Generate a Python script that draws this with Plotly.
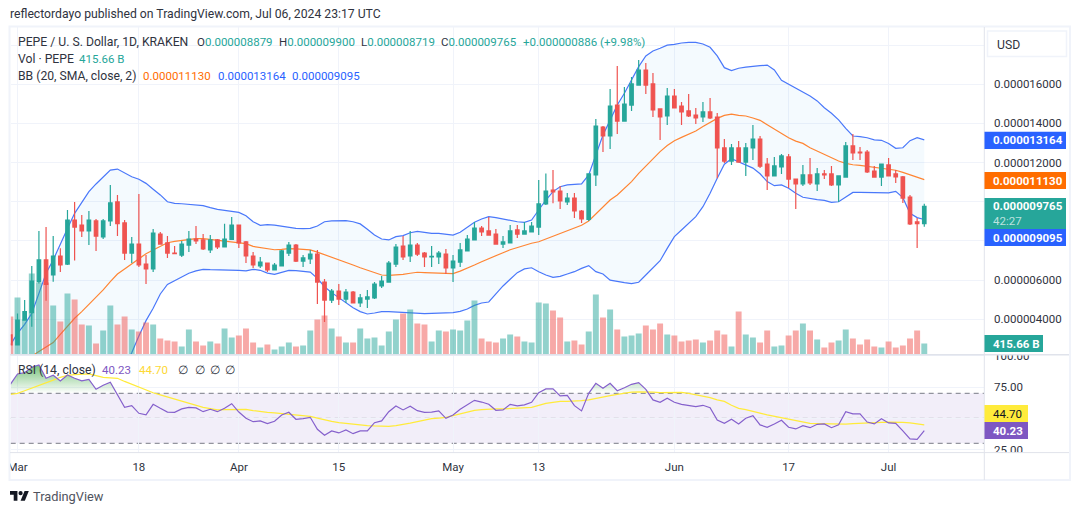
import pandas as pd
import plotly.graph_objects as go

# Daily PEPE/USD session data, Feb 29 to Jul 6 2024. Prices in millionths of a dollar.
DATES = pd.date_range("2024-02-29", "2024-07-06", freq="D")
PRICE_UNIT = 1e-6

OPEN = [3.20,
 2.69,3.96,4.34,5.92,7.03,6.26,7.23,6.82,9.07,8.81,8.51,9.02,8.2,9.02,9.99,8.92,7.38,7.84,6.82,6.57,
 8.35,7.9,7.38,7.28,7.79,8.1,8.05,7.54,8.05,7.69,8.08,8.81,7.95,7.23,6.72,6.87,6.52,6.72,7.38,7.79,
 6.97,7.08,7.33,5.9,4.98,5.44,5.03,5.39,4.83,5.03,5.09,5.7,5.9,6.82,7.74,7.23,7.79,7.38,7.18,7.18,
 7.33,6.62,6.92,7.49,8.05,8.66,8.51,8.35,7.84,7.9,8.56,8.35,8.46,8.71,9.89,10.6,10.55,9.99,10.19,9.53,
 9.1,11.37,13.82,13.36,14.94,14.12,14.94,15.96,16.73,16.02,14.74,14.38,15.4,14.89,14.64,14.43,14.33,14.59,14.33,12.75,
 12.08,12.75,12.03,12.75,13.2,11.93,11.32,11.78,12.29,11.16,10.91,11.37,10.91,11.42,11.42,10.86,11.26,12.85,12.54,12.54,
 11.57,11.26,11.88,11.42,11.27,10.24,8.97,8.879]
HIGH = [3.20,
 4.30,4.98,6.72,8.51,8.71,8.25,7.62,9.58,9.99,9.32,9.53,9.12,9.12,10.86,10.35,9.07,8.2,10.4,7.28,8.61,
 8.46,8.25,7.74,8.0,8.51,8.76,8.35,8.3,8.1,8.88,9.22,8.81,8.0,7.43,7.18,6.87,6.87,7.54,7.95,7.84,
 7.28,7.54,7.54,6.06,5.55,5.8,5.55,5.44,5.29,5.5,5.9,6.21,6.97,7.84,8.25,8.51,7.9,7.43,7.74,7.49,
 7.59,7.28,7.9,8.3,8.97,8.76,9.22,8.61,8.25,8.81,8.81,8.97,8.97,11.11,11.45,11.62,10.8,10.45,10.45,9.58,
 11.44,14.23,13.87,15.76,16.93,15.86,16.37,17.24,17.09,16.58,14.74,15.81,15.76,15.1,15.5,14.79,15.1,15.3,14.53,13.2,
 12.95,13.1,13.0,13.92,13.36,12.24,12.29,12.44,12.44,11.16,11.88,12.24,11.73,11.62,11.83,11.32,13.05,13.46,12.8,12.64,
 11.83,11.93,12.24,11.62,11.32,10.35,9.17,9.90]
LOW = [2.69,
 2.69,3.96,3.62,5.83,4.95,5.92,6.41,6.77,7.0,8.2,7.79,7.49,8.1,8.76,8.25,7.03,6.87,6.67,5.8,6.41,
 7.84,7.13,7.33,7.18,7.43,7.84,7.54,7.38,7.59,7.69,8.05,7.64,6.87,6.62,6.62,6.41,6.52,6.72,7.23,6.92,
 6.67,6.82,4.78,3.86,4.83,4.73,4.83,4.83,4.63,4.57,5.03,5.6,5.9,6.67,7.03,6.92,7.23,6.67,6.67,6.82,
 6.31,5.9,6.67,7.49,8.05,8.25,8.3,7.84,7.64,7.9,8.15,8.35,8.46,8.3,9.84,9.92,9.63,9.84,9.17,8.92,
 9.02,10.8,12.54,12.7,13.46,14.12,14.64,15.96,15.5,14.33,13.15,13.92,14.79,13.92,14.33,13.97,14.07,14.23,11.2,11.98,
 11.88,12.03,11.32,12.13,11.72,10.6,11.32,11.42,10.7,9.63,10.81,10.86,10.55,11.16,10.81,9.99,11.26,12.13,12.13,11.47,
 11.26,10.81,11.32,10.96,9.94,8.81,7.64,8.719]
CLOSE = [2.69,
 3.96,4.39,5.95,7.03,5.78,7.23,6.77,9.07,8.71,8.51,9.07,8.25,9.02,9.94,8.88,7.38,7.84,6.77,6.57,8.4,
 7.84,7.38,7.35,7.84,8.1,8.0,7.59,8.05,7.69,8.1,8.81,7.9,7.23,6.77,6.92,6.52,6.77,7.49,7.79,6.97,
 7.13,7.33,5.9,4.98,5.44,5.03,5.39,4.83,5.09,5.14,5.8,5.95,6.87,7.69,7.18,7.79,7.33,7.18,7.21,7.38,
 6.62,6.97,7.54,8.1,8.66,8.46,8.3,7.84,7.95,8.51,8.35,8.51,8.76,9.89,10.55,10.5,10.04,10.19,9.53,9.12,
 11.42,13.87,13.36,14.89,14.12,14.99,16.02,16.73,15.96,14.69,14.33,15.4,14.79,14.59,14.38,14.28,14.59,14.28,12.75,12.08,
 12.75,12.03,12.75,13.2,11.82,11.32,11.83,12.34,11.16,10.91,11.37,10.96,11.42,11.37,10.86,11.32,12.85,12.49,12.49,11.52,
 11.26,11.93,11.32,11.27,10.19,8.87,8.879,9.765]

# Volume in billions of PEPE
VOLUME = [1436,
 2155,1323,3062,2722,2722,1852,1247,2306,2079,1134,1096,416,907,1852,1134,1436,945,869,1210,1134,
 605,529,491,302,945,491,340,491,416,983,643,718,983,454,265,378,189,302,454,302,
 340,907,1323,1474,983,680,454,454,983,605,643,340,869,1323,1550,1701,1172,1134,491,907,
 869,945,907,1285,2041,605,491,454,605,756,680,491,454,1966,1928,1663,1399,491,529,378,
 869,2268,1399,1701,945,680,718,794,1096,945,1172,756,718,491,529,567,454,529,907,756,
 302,1625,756,643,454,907,302,340,718,907,1172,907,567,265,454,529,945,605,378,567,
 302,265,491,265,340,605,907,415.66]

# Bollinger Bands (20, SMA, close, 2); early values sit below the visible price range
BB_UPPER = [2.69,
 3.28,3.74,4.3,5.32,6.35,7.03,7.88,8.64,9.41,10.0,10.52,10.91,11.28,11.62,11.67,11.49,11.28,11.15,10.94,10.64,
 10.35,10.0,9.92,9.9,9.87,9.84,9.8,9.7,9.61,9.56,9.51,9.46,9.29,8.98,8.8,8.83,8.81,8.76,8.7,8.64,
 8.63,8.64,8.76,8.98,9.02,9.04,9.04,8.98,8.87,8.6,8.3,8.1,8.05,8.22,8.27,8.42,8.49,8.44,8.39,8.39,
 8.35,8.3,8.44,8.68,8.95,9.12,9.24,9.19,9.12,9.04,8.98,8.95,9.07,9.58,10.09,10.52,10.77,10.86,10.87,10.91,
 11.37,12.42,13.41,14.17,14.94,15.54,16.22,16.9,17.45,17.7,17.84,18.0,18.04,18.11,18.14,18.14,18.06,17.89,17.45,16.85,
 16.7,16.82,16.88,16.9,16.95,16.98,16.73,16.2,16.0,15.8,15.6,15.4,15.15,14.8,14.52,14.18,13.75,13.36,13.33,13.27,
 13.16,13.14,12.98,12.73,12.76,13.12,13.27,13.164]
BB_MIDDLE = [0.9,
 1.2,1.6,2.12,2.35,2.57,2.81,3.23,3.66,4.05,4.39,4.76,5.12,5.5,5.92,6.31,6.57,6.82,7.11,7.35,7.54,
 7.74,7.91,7.98,8.03,8.08,8.12,8.12,8.08,8.03,8.0,7.96,7.93,7.86,7.72,7.66,7.61,7.55,7.57,7.61,7.59,
 7.55,7.54,7.43,7.3,7.18,7.06,6.91,6.77,6.63,6.5,6.38,6.26,6.24,6.26,6.29,6.35,6.4,6.38,6.36,6.35,
 6.33,6.33,6.46,6.6,6.77,6.94,7.08,7.23,7.4,7.55,7.67,7.78,7.88,7.96,8.1,8.25,8.39,8.56,8.7,8.8,
 9.02,9.38,9.75,10.09,10.35,10.69,11.03,11.45,11.82,12.17,12.56,12.87,13.12,13.29,13.46,13.61,13.84,14.04,14.26,14.41,
 14.48,14.41,14.38,14.28,14.16,13.93,13.7,13.5,13.27,13.1,12.98,12.76,12.59,12.42,12.24,12.08,11.96,11.89,11.86,11.81,
 11.76,11.73,11.67,11.61,11.5,11.37,11.25,11.13]
BB_LOWER = [-0.9,
 -0.9,-0.5,-0.1,-0.6,-1.2,-1.4,-1.4,-1.3,-1.3,-1.2,-1.0,-0.7,-0.3,0.2,0.9,1.58,2.29,3.15,3.93,4.56,
 5.29,5.78,5.97,6.14,6.35,6.47,6.55,6.53,6.53,6.52,6.52,6.5,6.47,6.55,6.5,6.36,6.29,6.4,6.5,6.48,
 6.45,6.41,6.09,5.66,5.36,5.1,4.85,4.59,4.39,4.27,4.32,4.39,4.39,4.37,4.35,4.3,4.29,4.29,4.3,4.32,
 4.32,4.34,4.4,4.52,4.71,4.83,4.88,5.31,5.7,6.04,6.38,6.57,6.63,6.43,6.26,6.14,6.19,6.31,6.43,6.6,
 6.74,6.43,6.31,6.0,5.92,5.87,5.82,5.89,6.26,6.63,6.99,7.62,8.22,8.56,8.9,9.24,9.75,10.43,11.2,11.92,
 12.2,12.05,11.9,11.72,11.43,11.03,10.82,10.86,10.69,10.43,10.23,10.16,10.11,10.07,9.97,10.0,10.26,10.48,10.48,10.47,
 10.45,10.43,10.45,10.53,10.21,9.41,9.19,9.095]

RSI = [77.2,
 85.5,86.5,90.8,92.7,82,84.4,79.9,84.7,82,80,81.2,73.2,76.4,78.8,68.7,58.8,60.1,54,52.7,61.2,
 58,55,54.8,57.5,58.8,58.3,55.3,57.2,55.3,58,61.7,55,50,47.3,47.9,45.7,47.6,52.7,54.8,49.2,
 49.7,50.8,41.2,36.4,39.9,38.3,40.7,37.7,39.9,39.9,46.5,47.9,55.3,59.9,56.7,59.6,56.1,54.8,55,55.9,
 50,52.7,57.2,60.7,64.4,63,61.2,56.4,56.7,61.2,59.9,60.7,62.8,70.5,73.5,73.5,67.9,68.4,60.1,55.9,
 70,78,74,78,72.1,74.5,77.2,78.5,73.2,64.7,62.8,66,62.8,61.2,60.1,59.3,60.4,58.5,48.7,46,
 49.2,45.5,50,52.1,44.7,42.8,45.5,48.4,42.8,41.5,44.1,42.5,45.2,45.5,42.5,44.9,55.3,53.5,53.5,47,
 45.5,49.7,46.3,46,39.9,33.5,33.2,40.23]
RSI_MA = [69.2,
 70,72,74,76,78,80.5,82.8,84.4,85,85.5,85.5,84.2,82.8,82.4,82,79.5,77.2,74.6,72.1,70.4,
 68.7,67,65.5,63.7,62,60.4,58.8,57.7,56.7,57,57.2,57.2,57.2,56.2,55.3,54.8,54.3,53.7,53.2,52.6,
 52.1,51.6,50.2,48.7,47.6,46.5,45.9,45.2,44.4,44.2,43.9,43.7,43.6,44.2,44.9,46.1,47.3,48.5,49.7,50.2,
 50.8,52.1,53.5,55,56.4,57,57.5,57.5,57.5,57.7,58,58.4,58.8,60.4,62,62.8,63.6,63.6,63.6,64.1,
 64.7,66,67.3,68.2,69.2,70.1,71,71.2,71.3,70.9,70.5,70.4,70.3,70.8,69.9,68.9,67.7,66.5,64.7,63.5,
 60.5,58,57,55.9,54.2,52.7,51.6,50.5,49.3,48.1,47,45.9,45.7,45.5,45.3,45.2,45.4,45.7,46.1,46.5,
 46.6,46.8,46.9,47,46.7,46.3,45.5,44.7]

PRICE_TICKS = [4, 6, 8, 10, 12, 14, 16, 18]
PRICE_UNLABELLED = {8, 10, 18}  # hidden behind the last-value tags or the currency button
RSI_TICKS = [25, 50, 75, 100]
RSI_UNLABELLED = {50}
RSI_UPPER, RSI_MID, RSI_LOWER = 70, 50, 30
TIME_TICKS = ["2024-03-01", "2024-03-18", "2024-04-01", "2024-04-15", "2024-05-01",
              "2024-05-13", "2024-06-01", "2024-06-17", "2024-07-01"]
TIME_LABELS = ["Mar", "18", "Apr", "15", "May", "13", "Jun", "17", "Jul"]

for series in (OPEN, HIGH, LOW, CLOSE, VOLUME, BB_UPPER, BB_MIDDLE, BB_LOWER, RSI, RSI_MA):
    assert len(series) == len(DATES), len(series)

UP, DOWN = "#26a69a", "#ef5350"
UP_VOL, DOWN_VOL = "rgba(38,166,154,0.5)", "rgba(239,83,80,0.5)"
BLUE, ORANGE, PURPLE, YELLOW = "#4a78fa", "#ff8533", "#8560cc", "#ffeb3b"
TAG_BLUE, TAG_ORANGE, TAG_PURPLE = "#2962ff", "#ff6d00", "#7e57c2"
GRID, EDGE, INK = "#f0f3fa", "#e0e3eb", "#2f3340"
FONT = "Roboto"
TEXT_SIZE, NUMBER_SIZE = 12.2, 11.5
W, H = 1080, 515


def px(x):
    return x / W


def py(y):
    return 1 - y / H


def scaled(values):
    return [v * PRICE_UNIT for v in values]


fig = go.Figure()

# Bands sit underneath everything else in the price pane
fig.add_trace(go.Scatter(x=DATES, y=scaled(BB_UPPER), mode="lines", line=dict(color=BLUE, width=1.2),
                         xaxis="x", yaxis="y"))
fig.add_trace(go.Scatter(x=DATES, y=scaled(BB_LOWER), mode="lines", line=dict(color=BLUE, width=1.2),
                         fill="tonexty", fillcolor="rgba(33,150,243,0.05)", xaxis="x", yaxis="y"))
fig.add_trace(go.Scatter(x=DATES, y=scaled(BB_MIDDLE), mode="lines", line=dict(color=ORANGE, width=1.2),
                         xaxis="x", yaxis="y"))

# Volume histogram coloured by candle direction
fig.add_trace(go.Bar(x=DATES, y=VOLUME, xaxis="x", yaxis="y2",
                     marker=dict(color=[UP_VOL if c >= o else DOWN_VOL for o, c in zip(OPEN, CLOSE)],
                                 line=dict(width=0))))

fig.add_trace(go.Candlestick(
    x=DATES, open=scaled(OPEN), high=scaled(HIGH), low=scaled(LOW), close=scaled(CLOSE),
    increasing=dict(line=dict(color=UP, width=1.2), fillcolor=UP),
    decreasing=dict(line=dict(color=DOWN, width=1.2), fillcolor=DOWN),
    whiskerwidth=0, xaxis="x", yaxis="y3"))

# RSI pane: overbought fill fades out towards the 70 level
fig.add_trace(go.Scatter(x=DATES, y=[RSI_UPPER] * len(DATES), mode="lines", line=dict(width=0),
                         xaxis="x", yaxis="y4"))
fig.add_trace(go.Scatter(x=DATES, y=[max(v, RSI_UPPER) for v in RSI], mode="lines", line=dict(width=0),
                         fill="tonexty",
                         fillgradient=dict(type="vertical", start=RSI_UPPER, stop=100,
                                           colorscale=[[0, "rgba(76,175,80,0)"], [1, "rgba(76,175,80,1)"]]),
                         xaxis="x", yaxis="y4"))
fig.add_trace(go.Scatter(x=DATES, y=RSI_MA, mode="lines", line=dict(color=YELLOW, width=1.2),
                         xaxis="x", yaxis="y4"))
fig.add_trace(go.Scatter(x=DATES, y=RSI, mode="lines", line=dict(color=PURPLE, width=1.2),
                         xaxis="x", yaxis="y4"))

PANE_LEFT, PANE_RIGHT = 10.7, 984
PRICE_TOP, PRICE_BOTTOM = 27, 354.5
RSI_TOP, RSI_BOTTOM = 354.5, 452.6
DAY_PX = 7.14
MAR_1_X = 17.5
origin = pd.Timestamp("2024-03-01")
x_start = origin + pd.Timedelta(days=(PANE_LEFT - MAR_1_X) / DAY_PX)
x_end = origin + pd.Timedelta(days=(PANE_RIGHT - MAR_1_X) / DAY_PX)

price_range = [2.2 * PRICE_UNIT, 18.926 * PRICE_UNIT]
rsi_range = [50 - (RSI_BOTTOM - 418.3) / 1.25, 50 + (418.3 - RSI_TOP) / 1.25]
price_labels = ["" if t in PRICE_UNLABELLED else f"{t * PRICE_UNIT:.9f}" for t in PRICE_TICKS]
rsi_labels = ["" if t in RSI_UNLABELLED else f"{t:.2f}" for t in RSI_TICKS]

shapes = []


def rect(x0, y0, x1, y1, fill, line=None, width=0, layer="above"):
    shapes.append(dict(type="rect", xref="paper", yref="paper", x0=px(x0), x1=px(x1), y0=py(y0), y1=py(y1),
                       fillcolor=fill, line=dict(color=line or fill, width=width), layer=layer))


def hline(x0, x1, y, color=EDGE, width=1):
    shapes.append(dict(type="line", xref="paper", yref="paper", x0=px(x0), x1=px(x1), y0=py(y), y1=py(y),
                       line=dict(color=color, width=width), layer="above"))


def vline(x, y0, y1, color=EDGE, width=1):
    shapes.append(dict(type="line", xref="paper", yref="paper", x0=px(x), x1=px(x), y0=py(y0), y1=py(y1),
                       line=dict(color=color, width=width), layer="above"))


def poly(points, fill):
    path = "M" + " L".join(f"{px(x)},{py(y)}" for x, y in points) + " Z"
    shapes.append(dict(type="path", xref="paper", yref="paper", path=path, fillcolor=fill,
                       line=dict(width=0), layer="above"))


# RSI background band and its dashed levels
shapes.append(dict(type="rect", xref="paper", yref="y4", x0=px(PANE_LEFT), x1=px(PANE_RIGHT),
                   y0=RSI_LOWER, y1=RSI_UPPER, fillcolor="rgba(126,87,194,0.1)", line=dict(width=0), layer="below"))
for level, colour in ((RSI_UPPER, "#787b86"), (RSI_LOWER, "#787b86"), (RSI_MID, "rgba(120,123,134,0.6)")):
    shapes.append(dict(type="line", xref="paper", yref="y4", x0=px(PANE_LEFT), x1=px(PANE_RIGHT),
                       y0=level, y1=level, line=dict(color=colour, width=1, dash="5px,4px"), layer="below"))

# Clip tick labels that run past the panes
rect(0, 0, 9.5, H, "#ffffff")
rect(1069, 0, W, H, "#ffffff")
rect(0, 480.5, W, H, "#ffffff")
rect(0, 0, W, 26, "#ffffff")
rect(985, 345, 1069, 354.5, "#ffffff")
rect(985, 452.6, 1069, 480, "#ffffff")

# Frame and pane separators
rect(9.5, 26.5, 1070, 480, "rgba(0,0,0,0)", GRID, 2)
vline(984.3, 27, 480)
hline(10, 1069, 354.7, EDGE, 1.5)
hline(10, 1069, 452.6, EDGE, 1)

# Currency button
shapes.append(dict(type="rect", xref="paper", yref="paper", x0=px(987.5), x1=px(1066.5), y0=py(31), y1=py(56.5),
                   fillcolor="#ffffff", line=dict(color=GRID, width=1.5), layer="above"))

# Last-value tags on the scales
rect(984.5, 131.7, 1066, 149, TAG_BLUE)
rect(984.5, 172, 1066, 189, TAG_ORANGE)
rect(984.5, 198, 1066, 229, UP)
rect(984.5, 229, 1066, 246, TAG_BLUE)
rect(984.5, 335, 1043, 352, UP)
rect(984.5, 405, 1028, 422, YELLOW)
rect(984.5, 422, 1028, 439, TAG_PURPLE)

# Brand mark in the footer
LOGO_X, LOGO_Y, LOGO_S = 10, 489, 0.53
LOGO_INK = "#131722"


def logo(points):
    return [(LOGO_X + a * LOGO_S, LOGO_Y + b * LOGO_S) for a, b in points]


poly(logo([(14, 22), (7, 22), (7, 11), (0, 11), (0, 4), (14, 4)]), LOGO_INK)
poly(logo([(28, 22), (20, 22), (27.5, 4), (35.5, 4)]), LOGO_INK)
shapes.append(dict(type="circle", xref="paper", yref="paper",
                   x0=px(LOGO_X + 16 * LOGO_S), x1=px(LOGO_X + 24 * LOGO_S),
                   y0=py(LOGO_Y + 12 * LOGO_S), y1=py(LOGO_Y + 4 * LOGO_S),
                   fillcolor=LOGO_INK, line=dict(width=0), layer="above"))

annotations = []


def label(x, y, text, color=INK, size=TEXT_SIZE, weight=None):
    annotations.append(dict(xref="paper", yref="paper", x=px(x), y=py(y), text=text, showarrow=False,
                            xanchor="left", yanchor="middle", align="left",
                            font=dict(family=FONT, size=size, color=color, weight=weight or "normal"),
                            borderpad=0, borderwidth=0))


TEAL = "#26a69a"
label(10, 14.5, "reflectordayo published on TradingView.com, Jul 06, 2024 23:17 UTC")
label(18, 42, "PEPE / U. S. Dollar, 1D, KRAKEN")
for x, key, value in ((197, "O", "0.000008879"), (279, "H", "0.000009900"), (361, "L", "0.000008719"), (441, "C", "0.000009765")):
    label(x, 42, f"{key}<span style='color:{TEAL}'>{value}</span>", INK, NUMBER_SIZE)
label(523, 42, "+0.000000886 (+9.98%)", TEAL, NUMBER_SIZE)
label(18, 59, "Vol · PEPE")
label(79, 59, "415.66 B", TEAL, NUMBER_SIZE)
label(18, 76, "BB (20, SMA, close, 2)")
label(143, 76, "0.000011130", TAG_ORANGE, NUMBER_SIZE)
label(218, 76, "0.000013164", TAG_BLUE, NUMBER_SIZE)
label(292, 76, "0.000009095", TAG_BLUE, NUMBER_SIZE)
label(18, 370, "RSI (14, close)")
label(102, 370, "40.23", TAG_PURPLE, NUMBER_SIZE)
label(139, 370, "44.70", "#fdd835", NUMBER_SIZE)
for x in (178, 195, 210, 225):
    label(x, 370, "∅", INK, NUMBER_SIZE)
label(997, 45, "USD")
label(993, 140.5, "0.000013164", "#ffffff", NUMBER_SIZE, weight="bold")
label(993, 180.5, "0.000011130", "#ffffff", NUMBER_SIZE, weight="bold")
label(993, 206.5, "0.000009765", "#ffffff", NUMBER_SIZE, weight="bold")
label(993, 221, "42:27", "rgba(255,255,255,0.7)", NUMBER_SIZE)
label(993, 237.5, "0.000009095", "#ffffff", NUMBER_SIZE, weight="bold")
label(993, 343.5, "415.66 B", "#ffffff", NUMBER_SIZE, weight="bold")
label(993, 413.5, "44.70", "#131722", NUMBER_SIZE)
label(993, 430.5, "40.23", "#ffffff", NUMBER_SIZE, weight="bold")
label(33, 496.5, "TradingView", "#50535e", 12.8)

fig.update_layout(
    width=W, height=H, margin=dict(l=0, r=0, t=0, b=0, pad=0, autoexpand=False), autosize=False,
    paper_bgcolor="#ffffff", plot_bgcolor="#ffffff", showlegend=False, hovermode=False,
    bargap=0.17, font=dict(family=FONT, size=12, color=INK),
    xaxis=dict(domain=[px(PANE_LEFT), px(PANE_RIGHT)], range=[x_start, x_end], type="date", anchor="y4",
               tickmode="array", tickvals=TIME_TICKS, ticktext=TIME_LABELS, tickangle=0,
               showgrid=True, gridcolor=GRID, gridwidth=1, zeroline=False, showline=False, ticks="",
               ticklabelstandoff=6, tickfont=dict(family=FONT, size=NUMBER_SIZE, color=INK),
               rangeslider=dict(visible=False)),
    yaxis=dict(domain=[py(PRICE_BOTTOM), py(PRICE_TOP)], range=price_range, anchor="x",
               tickmode="array", tickvals=scaled(PRICE_TICKS), showticklabels=False,
               showgrid=True, gridcolor=GRID, gridwidth=1, zeroline=False, showline=False, ticks=""),
    yaxis2=dict(domain=[py(PRICE_BOTTOM), py(PRICE_TOP)], range=[0, 12380], overlaying="y", anchor="x",
                visible=False, showgrid=False),
    yaxis3=dict(domain=[py(PRICE_BOTTOM), py(PRICE_TOP)], range=price_range, overlaying="y", anchor="x", side="right",
                tickmode="array", tickvals=scaled(PRICE_TICKS), ticktext=price_labels,
                showgrid=False, zeroline=False, showline=False, ticks="", ticklabelstandoff=9,
                tickfont=dict(family=FONT, size=NUMBER_SIZE, color=INK)),
    yaxis4=dict(domain=[py(RSI_BOTTOM), py(RSI_TOP)], range=rsi_range, anchor="x", side="right",
                tickmode="array", tickvals=RSI_TICKS, ticktext=rsi_labels,
                showgrid=True, gridcolor=GRID, gridwidth=1, zeroline=False, showline=False, ticks="",
                ticklabelstandoff=9, tickfont=dict(family=FONT, size=NUMBER_SIZE, color=INK)),
    shapes=shapes, annotations=annotations,
)

fig.write_html("out.html", config=dict(displayModeBar=False))
